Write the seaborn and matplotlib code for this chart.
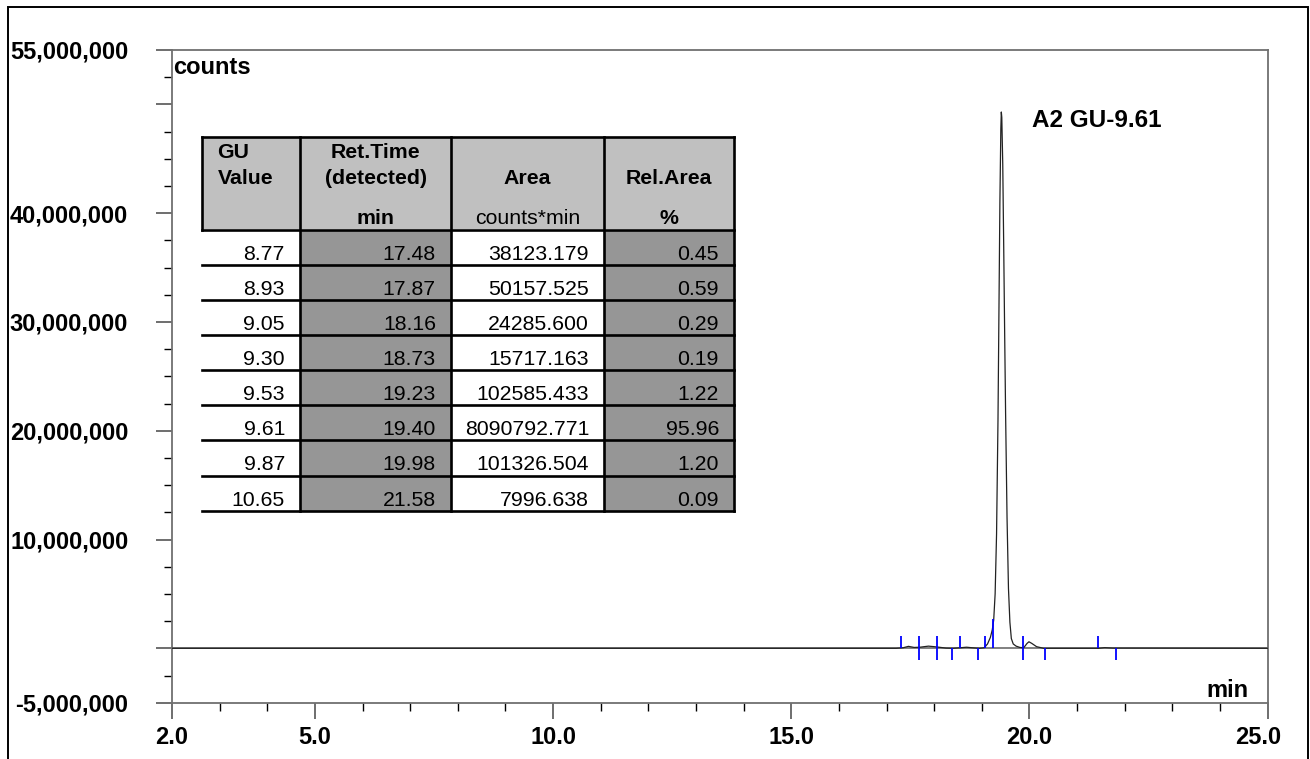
import numpy as np
import pandas as pd
import matplotlib
matplotlib.use("Agg")
import matplotlib.pyplot as plt
import seaborn as sns
from matplotlib.patches import Rectangle
from matplotlib.transforms import ScaledTranslation

# ---------------- data ----------------
trace_time = [2.0, 17.20, 17.35, 17.46, 17.58, 17.70, 17.88, 18.00, 18.10, 18.25,
              18.40, 18.55, 18.68, 18.80, 18.95, 19.05, 19.12, 19.18, 19.22, 19.25,
              19.28, 19.31, 19.34, 19.36, 19.38, 19.40, 19.41, 19.42, 19.44, 19.46,
              19.48, 19.50, 19.53, 19.56, 19.59, 19.62, 19.66, 19.72, 19.80, 19.88,
              19.95, 19.99, 20.05, 20.15, 20.30, 21.45, 21.58, 21.75, 25.0]
trace_mcounts = [0.0, 0.0, 0.05, 0.18, 0.08, 0.10, 0.20, 0.15, 0.10, 0.02,
                 0.0, 0.05, 0.10, 0.05, 0.0, 0.05, 0.4, 1.0, 1.7, 2.6,
                 5.0, 10.5, 21.0, 31.0, 41.0, 47.8, 49.3, 48.8, 44.5, 37.0,
                 29.0, 21.5, 12.0, 5.5, 2.4, 0.9, 0.4, 0.2, 0.08, 0.05,
                 0.45, 0.6, 0.45, 0.15, 0.0, 0.0, 0.06, 0.02, 0.0]

start_marks = [17.30, 17.68, 18.06, 18.55, 19.07, 19.86, 21.45]
end_marks = [17.68, 18.06, 18.37, 18.91, 19.86, 20.33, 21.82]
drop_marks = [19.23]
drop_heights = [2.7e6]

gu_values = [8.77, 8.93, 9.05, 9.30, 9.53, 9.61, 9.87, 10.65]
ret_times = [17.48, 17.87, 18.16, 18.73, 19.23, 19.40, 19.98, 21.58]
areas = [38123.179, 50157.525, 24285.600, 15717.163, 102585.433, 8090792.771, 101326.504, 7996.638]
rel_areas = [0.45, 0.59, 0.29, 0.19, 1.22, 95.96, 1.20, 0.09]

header_titles = ["GU\nValue", "Ret.Time\n(detected)", "Area", "Rel.Area"]
header_units = ["", "min", "counts*min", "%"]

peak_label = "A2 GU-9.61"
x_major = [2, 5, 10, 15, 20, 25]
y_major = [-5e6, 0, 10e6, 20e6, 30e6, 40e6, 50e6, 55e6]
y_tick_labels = ["-5,000,000", "", "10,000,000", "20,000,000", "30,000,000",
                 "40,000,000", "", "55,000,000"]

# ---------------- style ----------------
sns.set_theme(style="white")
plt.rcParams["font.family"] = ["Liberation Sans", "DejaVu Sans"]
plt.rcParams["text.color"] = "black"
plt.rcParams["xtick.labelcolor"] = "black"
plt.rcParams["ytick.labelcolor"] = "black"

W, H = 1310, 759
fig = plt.figure(figsize=(W / 100, H / 100), dpi=100)
fig.patch.set_facecolor("white")

ax_l, ax_r, ax_t, ax_b = 172, 1267.6, 50, 702.7
ax = fig.add_axes([ax_l / W, 1 - ax_b / H, (ax_r - ax_l) / W, (ax_b - ax_t) / H])

df = pd.DataFrame({"time": trace_time, "counts": np.array(trace_mcounts) * 1e6})
ax.axhline(0, color="#808080", lw=1.4, zorder=1)
sns.lineplot(data=df, x="time", y="counts", ax=ax, color="#222222", linewidth=0.9,
             estimator=None, sort=False, zorder=3)

mark_h = 1.1e6
ax.vlines(start_marks, 0, mark_h, colors="#0000ff", lw=1.3, zorder=4)
ax.vlines(end_marks, -mark_h, 0, colors="#0000ff", lw=1.3, zorder=4)
ax.vlines(drop_marks, 0, drop_heights, colors="#0000ff", lw=1.3, zorder=4)

ax.set_xlim(2, 25)
ax.set_ylim(-5e6, 55e6)
ax.set_xlabel("")
ax.set_ylabel("")

ax.set_xticks(x_major)
ax.set_xticklabels([f"{v:.1f}" for v in x_major], fontsize=17, fontweight="bold")
ax.set_xticks([v for v in range(3, 25) if v % 5 != 0], minor=True)
ax.set_yticks(y_major)
ax.set_yticklabels(y_tick_labels, fontsize=17, fontweight="bold")
ax.set_yticks([v * 2.5e6 for v in range(-1, 22) if (v * 2.5e6) not in y_major], minor=True)

ax.tick_params(which="major", length=11.5, width=1.2, direction="out", color="#555555",
               labelcolor="black", left=True, bottom=True)
ax.tick_params(which="minor", length=5.5, width=1.0, direction="out", color="black",
               left=True, bottom=True)
ax.tick_params(axis="x", which="major", pad=5)
ax.tick_params(axis="y", which="major", pad=20)
for s in ax.spines.values():
    s.set_color("#707070")
    s.set_linewidth(1.3)
    s.set_visible(True)

# last x label sits slightly left of its tick in the reference
last_lbl = ax.get_xticklabels()[-1]
last_lbl.set_transform(last_lbl.get_transform() + ScaledTranslation(-9 / 100, 0, fig.dpi_scale_trans))

ax.text(20.05, 47.9e6, peak_label, fontsize=17.5, fontweight="bold", va="baseline", ha="left")
ax.text(0.001, (ax_b - 73.5) / (ax_b - ax_t), "counts", transform=ax.transAxes,
        fontsize=17, fontweight="bold", va="baseline", ha="left")
ax.text((1249 - ax_l) / (ax_r - ax_l), (ax_b - 696.7) / (ax_b - ax_t), "min",
        transform=ax.transAxes, fontsize=17, fontweight="bold", va="baseline", ha="right")

# ---------------- table overlay (pixel coordinates) ----------------
ov = fig.add_axes([0, 0, 1, 1])
ov.set_xlim(0, W)
ov.set_ylim(H, 0)
ov.axis("off")
ov.patch.set_visible(False)

col_edges = [202, 300, 451, 604, 734]
head_top, head_bot = 137.3, 229.5
row_h = 35.15
n = len(gu_values)
tab_bot = head_bot + n * row_h
lw_tab = 1.9

ov.add_patch(Rectangle((col_edges[0], head_top), col_edges[-1] - col_edges[0],
                       head_bot - head_top, facecolor="#c0c0c0", edgecolor="none"))
for c in range(4):
    fc = "#969696" if c in (1, 3) else "white"
    ov.add_patch(Rectangle((col_edges[c], head_bot), col_edges[c + 1] - col_edges[c],
                           n * row_h, facecolor=fc, edgecolor="none"))

ys = [head_top, head_bot] + [head_bot + (i + 1) * row_h for i in range(n)]
for y in ys:
    ov.plot([col_edges[0], col_edges[-1]], [y, y], color="black", lw=lw_tab,
            solid_capstyle="projecting")
ov.plot([col_edges[0], col_edges[0]], [head_top, head_bot], color="black", lw=lw_tab,
        solid_capstyle="projecting")
for x in col_edges[1:]:
    ov.plot([x, x], [head_top, tab_bot], color="black", lw=lw_tab,
            solid_capstyle="projecting")

unit_weights = ["bold", "bold", "normal", "bold"]
fs_tab = 15.3
for c in range(4):
    lines = header_titles[c].split("\n")
    cx = (col_edges[c] + col_edges[c + 1]) / 2
    for i, line in enumerate(lines):
        yb = 184 - (len(lines) - 1 - i) * 25.7
        if c == 0:
            ov.text(col_edges[0] + 15.4, yb, line, fontsize=fs_tab, fontweight="bold",
                    ha="left", va="baseline")
        else:
            ov.text(cx, yb, line, fontsize=fs_tab, fontweight="bold", ha="center",
                    va="baseline")
    if header_units[c]:
        ov.text(cx, 224, header_units[c], fontsize=fs_tab, fontweight=unit_weights[c],
                ha="center", va="baseline")

cols = [[f"{v:.2f}" for v in gu_values], [f"{v:.2f}" for v in ret_times],
        [f"{v:.3f}" for v in areas], [f"{v:.2f}" for v in rel_areas]]
for c in range(4):
    for r in range(n):
        ov.text(col_edges[c + 1] - 15, head_bot + r * row_h + 30, cols[c][r],
                fontsize=fs_tab, ha="right", va="baseline", color="black")

# outer frame
fig.add_artist(Rectangle((8.3 / W, -0.02), (1308.3 - 8.3) / W, 1.02 - 6.7 / H,
                         transform=fig.transFigure, fill=False, edgecolor="black", lw=1.4))

fig.savefig("out.png", dpi=100)
